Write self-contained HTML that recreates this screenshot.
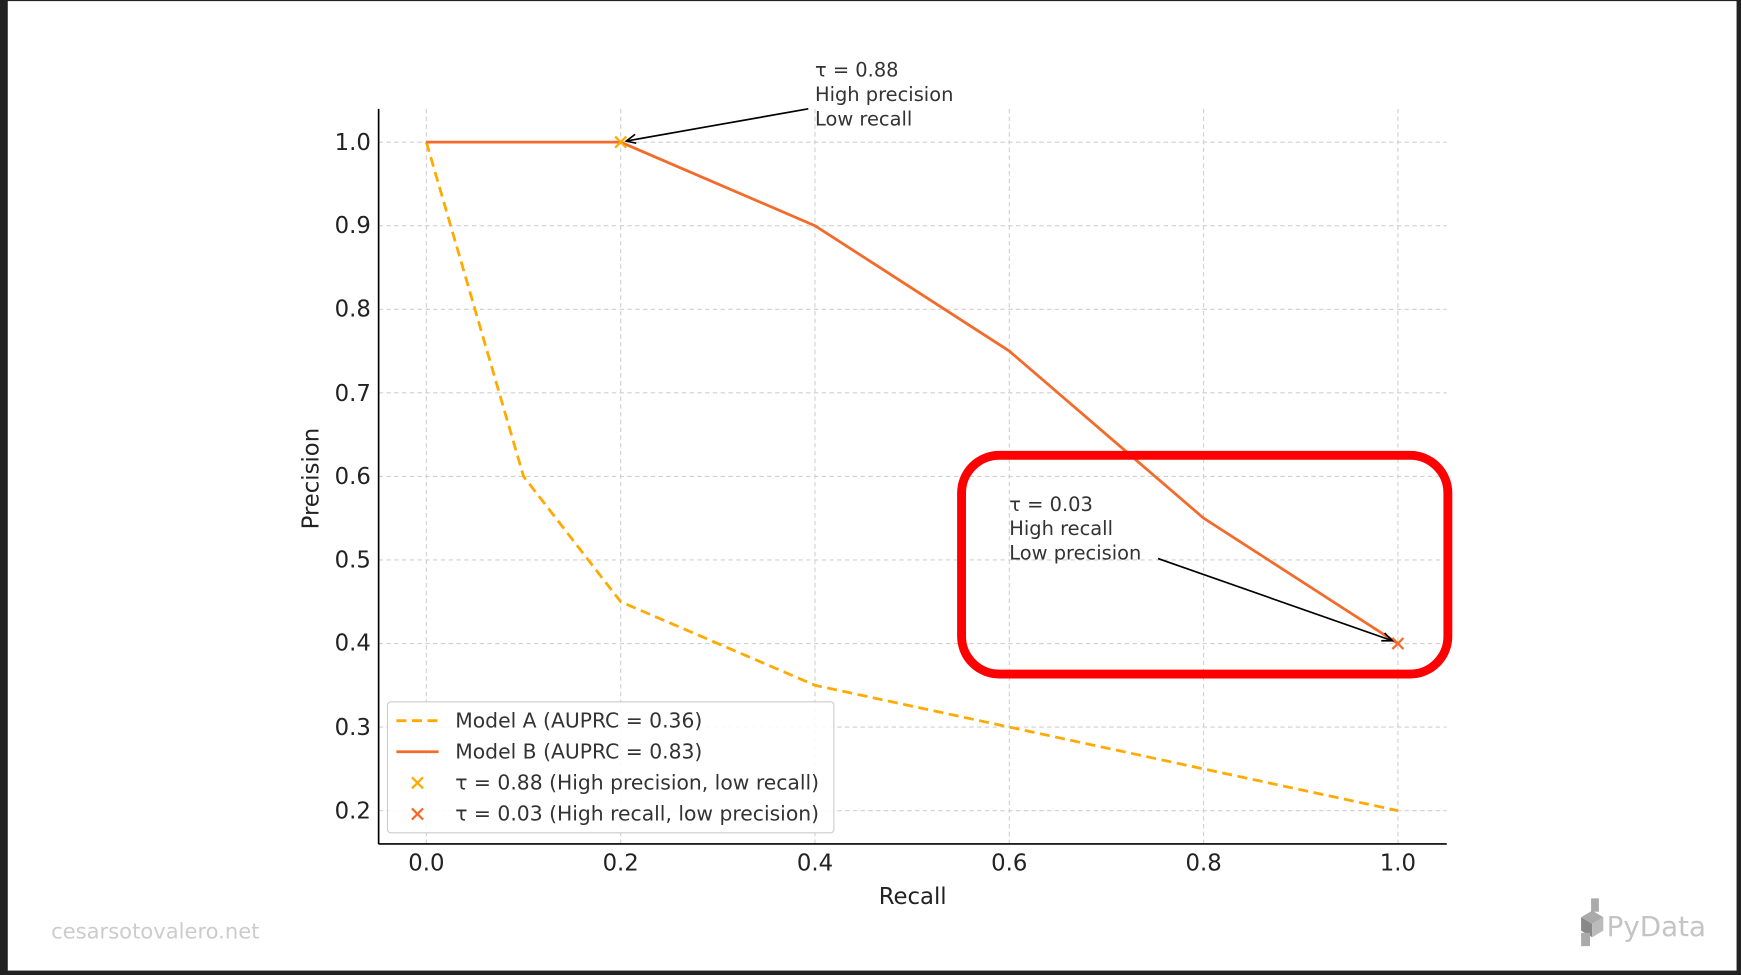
<!DOCTYPE html>
<html><head><meta charset="utf-8"><style>
html,body{margin:0;padding:0;background:#222;}
svg{display:block;}
text{font-family:"DejaVu Sans","Liberation Sans",sans-serif;}
</style></head><body>
<svg width="1741" height="975" viewBox="0 0 1568 878" preserveAspectRatio="none">
<rect x="0" y="0" width="1568" height="878" fill="#222"/>
<rect x="7" y="1" width="1557" height="873" fill="#fff"/>
<g stroke="#d0d0d0" stroke-width="1" stroke-dasharray="4,3">
<line x1="384" y1="98" x2="384" y2="760"/><line x1="559" y1="98" x2="559" y2="760"/>
<line x1="734" y1="98" x2="734" y2="760"/><line x1="909" y1="98" x2="909" y2="760"/>
<line x1="1084" y1="98" x2="1084" y2="760"/><line x1="1259" y1="98" x2="1259" y2="760"/>
<line x1="341" y1="128" x2="1303" y2="128"/><line x1="341" y1="203.25" x2="1303" y2="203.25"/>
<line x1="341" y1="278.5" x2="1303" y2="278.5"/><line x1="341" y1="353.75" x2="1303" y2="353.75"/>
<line x1="341" y1="429" x2="1303" y2="429"/><line x1="341" y1="504.25" x2="1303" y2="504.25"/>
<line x1="341" y1="579.5" x2="1303" y2="579.5"/><line x1="341" y1="654.75" x2="1303" y2="654.75"/>
<line x1="341" y1="730" x2="1303" y2="730"/>
</g>
<polyline points="384,128 471.5,429 559,541.9 734,617.1 909,654.75 1084,692.4 1259,730" fill="none" stroke="#ffaa00" stroke-width="2.5" stroke-dasharray="9,5"/>
<polyline points="384,128 559,128 734,203.25 909,316.1 1084,466.6 1259,579.5" fill="none" stroke="#f36b2a" stroke-width="2.5"/>
<g stroke-width="2"><path d="M554,123l10,10M564,123l-10,10" stroke="#ffaa00"/><path d="M1254,574.5l10,10M1264,574.5l-10,10" stroke="#f36b2a"/></g>
<g stroke="#000" stroke-width="1.5" fill="none">
<line x1="728" y1="98" x2="564" y2="127"/><path d="M572,121l-8,6 9,2"/>
<line x1="1043" y1="503" x2="1254" y2="577"/><path d="M1244,577l10,0 -7,-7"/>
</g>
<rect x="866" y="410" width="438" height="197" rx="34" fill="none" stroke="#ff0000" stroke-width="8"/>
<g stroke="#000" stroke-width="1.5"><line x1="341" y1="98" x2="341" y2="760"/><line x1="341" y1="760" x2="1303" y2="760"/></g>
<g font-size="20.5" fill="#222" text-anchor="end">
<text x="334" y="135">1.0</text><text x="334" y="210">0.9</text><text x="334" y="285">0.8</text>
<text x="334" y="361">0.7</text><text x="334" y="436">0.6</text><text x="334" y="511">0.5</text>
<text x="334" y="586">0.4</text><text x="334" y="662">0.3</text><text x="334" y="737">0.2</text>
</g>
<g font-size="20.5" fill="#222" text-anchor="middle">
<text x="384" y="784">0.0</text><text x="559" y="784">0.2</text><text x="734" y="784">0.4</text>
<text x="909" y="784">0.6</text><text x="1084" y="784">0.8</text><text x="1259" y="784">1.0</text>
<text x="822" y="814">Recall</text>
<text transform="translate(287,431) rotate(-90)">Precision</text>
</g>
<g font-size="17.5" fill="#333">
<text x="734" y="69">τ = 0.88</text><text x="734" y="91">High precision</text><text x="734" y="113">Low recall</text>
<text x="909" y="460">τ = 0.03</text><text x="909" y="482">High recall</text><text x="909" y="504">Low precision</text>
</g>
<rect x="349" y="632" width="402" height="118" rx="3" fill="#fff" fill-opacity="0.85" stroke="#ccc"/>
<line x1="357" y1="649" x2="395" y2="649" stroke="#ffaa00" stroke-width="2.5" stroke-dasharray="9,5"/>
<line x1="357" y1="677" x2="395" y2="677" stroke="#f36b2a" stroke-width="2.5"/>
<path d="M371,700l10,10M381,700l-10,10" stroke="#ffaa00" stroke-width="2"/>
<path d="M371,728l10,10M381,728l-10,10" stroke="#f36b2a" stroke-width="2"/>
<g font-size="18.3" fill="#333">
<text x="410" y="655">Model A (AUPRC = 0.36)</text><text x="410" y="683">Model B (AUPRC = 0.83)</text>
<text x="410" y="711">τ = 0.88 (High precision, low recall)</text><text x="410" y="739">τ = 0.03 (High recall, low precision)</text>
</g>
<text x="46" y="845" font-size="19" fill="#ccc">cesarsotovalero.net</text>
<g fill="#aaa"><path d="M1424,826l10,-6 10,6 -10,6z"/><path d="M1424,826v12l10,6v-12z" fill="#888"/><path d="M1434,832v12l10,-6v-12z" fill="#bbb"/><rect x="1433" y="809" width="7" height="12"/><rect x="1424" y="840" width="8" height="12"/></g>
<text x="1447" y="843" font-size="25" fill="#c4c4c4" font-family="Liberation Sans, sans-serif">PyData</text>
</svg>
</body></html>
